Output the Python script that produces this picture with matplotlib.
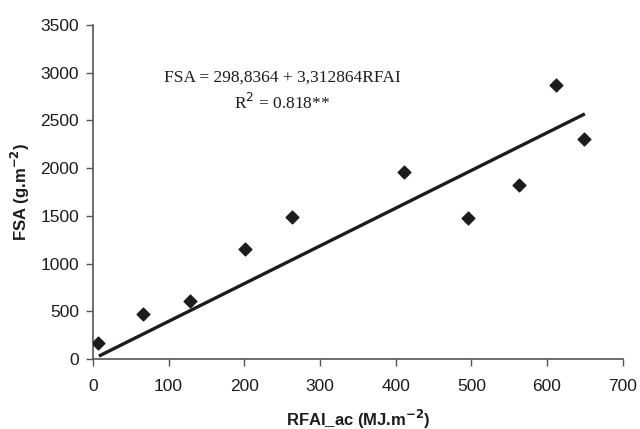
import matplotlib.pyplot as plt

# dados
rfai = [7, 66, 128, 201, 263, 411, 495, 563, 612, 649]
fsa = [168, 472, 608, 1153, 1488, 1960, 1478, 1824, 2872, 2306]

# reta de regressao como desenhada
reta_x = [8, 650]
reta_y = [31, 2568]

xticks = [0, 100, 200, 300, 400, 500, 600, 700]
yticks = [0, 500, 1000, 1500, 2000, 2500, 3000, 3500]

cor = '#1c1c1c'
plt.rcParams['font.family'] = ['Liberation Sans', 'DejaVu Sans']

fig = plt.figure(figsize=(6.4, 4.29), dpi=100)
ax = fig.add_axes([0.145, 0.163, 0.828, 0.779])

ax.plot(reta_x, reta_y, color=cor, lw=2.4, solid_capstyle='butt')
ax.scatter(rfai, fsa, marker='D', s=42, color=cor, zorder=3)

ax.set_xlim(0, 700)
ax.set_ylim(0, 3500)
ax.set_xticks(xticks)
ax.set_yticks(yticks)
ax.tick_params(direction='out', length=5, width=1, color='#555555',
               labelsize=12.5, labelcolor=cor)
ax.tick_params(axis='x', pad=9)
ax.tick_params(axis='y', pad=5)

for s in ['top', 'right']:
    ax.spines[s].set_visible(False)
for s in ['left', 'bottom']:
    ax.spines[s].set_color('#555555')
    ax.spines[s].set_linewidth(1.2)

ax.set_xlabel('RFAI_ac (MJ.m$^{\\mathbf{-2}}$)', fontsize=12, fontweight='bold',
              color=cor, labelpad=10)
ax.set_ylabel('FSA (g.m$^{\\mathbf{-2}}$)', fontsize=12, fontweight='bold',
              color=cor, labelpad=6)

ax.text(250, 2950, 'FSA = 298,8364 + 3,312864RFAI', fontsize=12.5,
        family='Liberation Serif', color=cor, ha='center', va='center')
ax.text(250, 2680, 'R$^2$ = 0.818**', fontsize=12.5,
        family='Liberation Serif', color=cor, ha='center', va='center')

plt.savefig('out.png', dpi=100)
